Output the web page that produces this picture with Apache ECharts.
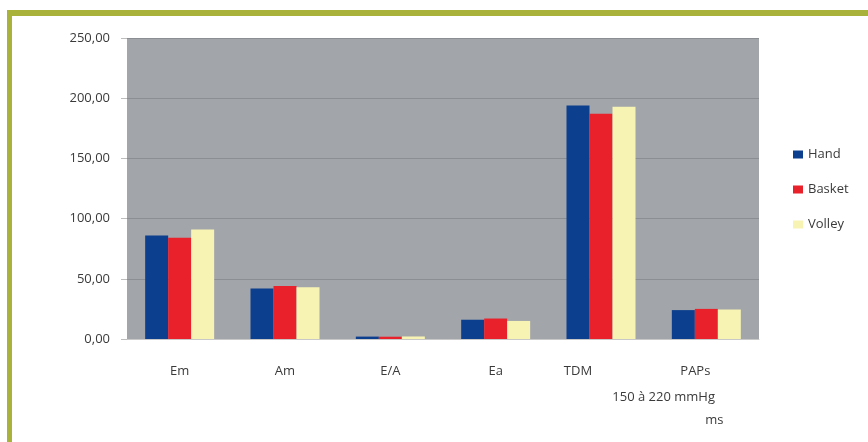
<!DOCTYPE html>
<html>
<head>
<meta charset="utf-8">
<script src="https://cdn.jsdelivr.net/npm/echarts@6/dist/echarts.min.js"></script>
<style>
  html, body { margin: 0; padding: 0; background: #ffffff; }
  #frame {
    position: absolute; left: 7px; top: 10px; width: 861px; height: 432px;
    border-top: 6px solid #a9b23b; border-left: 5px solid #a9b23b;
    box-sizing: border-box;
  }
  #chart { position: absolute; left: 0; top: 0; width: 868px; height: 442px; }
</style>
</head>
<body>
<div id="frame"></div>
<div id="chart"></div>
<script>
// Echocardiographic measures per sport group
const categories = ['Em', 'Am', 'E/A', 'Ea', 'TDM', 'PAPs'];
const hand   = [86, 42, 2.0, 16, 194, 24];
const basket = [84, 44, 1.9, 17, 187, 25];
const volley = [91, 43, 2.1, 15, 193, 24.5];
const yTicks = [0, 50, 100, 150, 200, 250];

const chart = echarts.init(document.getElementById('chart'), null, { renderer: 'canvas' });

const fontFamily = '"Open Sans", "Noto Sans", sans-serif';
const textColor = '#3a3a3a';

function bar(name, data, color) {
  return {
    name, type: 'bar', data,
    barWidth: 23, barGap: '0%',
    itemStyle: { color },
    emphasis: { disabled: true }
  };
}

const option = {
  animation: false,
  backgroundColor: 'transparent',
  grid: { left: 127, right: 109, top: 38, bottom: 103, show: true, backgroundColor: '#a2a5aa', borderWidth: 0 },
  legend: {
    orient: 'vertical', left: 788, top: 143,
    itemWidth: 10, itemHeight: 8, itemGap: 22,
    icon: 'rect',
    textStyle: { color: textColor, fontSize: 13, fontFamily },
    data: ['Hand', 'Basket', 'Volley']
  },
  xAxis: {
    type: 'category', data: categories,
    axisLine: { show: true, lineStyle: { color: '#c8c8c8', width: 1 } },
    axisTick: { show: false },
    axisLabel: {
      margin: 26, color: textColor, fontSize: 13, fontFamily,
      formatter: function (v) {
        if (v === 'TDM') return '{l|' + v + '}';
        if (v === 'PAPs') return '{p|' + v + '}';
        return v;
      },
      rich: {
        l: { padding: [0, 46, 0, 0], color: textColor, fontSize: 13, fontFamily },
        p: { padding: [0, 22, 0, 0], color: textColor, fontSize: 13, fontFamily }
      }
    }
  },
  yAxis: {
    type: 'value', min: yTicks[0], max: yTicks[yTicks.length - 1], interval: 50,
    axisLine: { show: false },
    axisTick: { show: true, length: 6, lineStyle: { color: '#bdbdbd' } },
    splitLine: { show: true, lineStyle: { color: '#8b8e93', width: 1 } },
    axisLabel: {
      margin: 17, color: textColor, fontSize: 13, fontFamily,
      formatter: v => v.toFixed(2).replace('.', ',')
    }
  },
  series: [
    bar('Hand', hand, '#0d3f8f'),
    bar('Basket', basket, '#e8212b'),
    bar('Volley', volley, '#f7f3b2')
  ]
};

chart.setOption(option);

// Units line under the last two categories, positioned from the category axis
const tdmX = chart.convertToPixel({ xAxisIndex: 0 }, 'TDM');
const papX = chart.convertToPixel({ xAxisIndex: 0 }, 'PAPs');
const baseY = chart.convertToPixel({ yAxisIndex: 0 }, 0);
chart.setOption({
  graphic: [
    {
      type: 'text',
      x: (tdmX + papX) / 2 + 10, y: baseY + 58,
      style: { text: '150 à 220 mmHg', fill: textColor, font: '13px ' + fontFamily, textAlign: 'center', textVerticalAlign: 'middle' }
    },
    {
      type: 'text',
      x: papX + 8, y: baseY + 81,
      style: { text: 'ms', fill: textColor, font: '13px ' + fontFamily, textAlign: 'center', textVerticalAlign: 'middle' }
    }
  ]
});
</script>
</body>
</html>
